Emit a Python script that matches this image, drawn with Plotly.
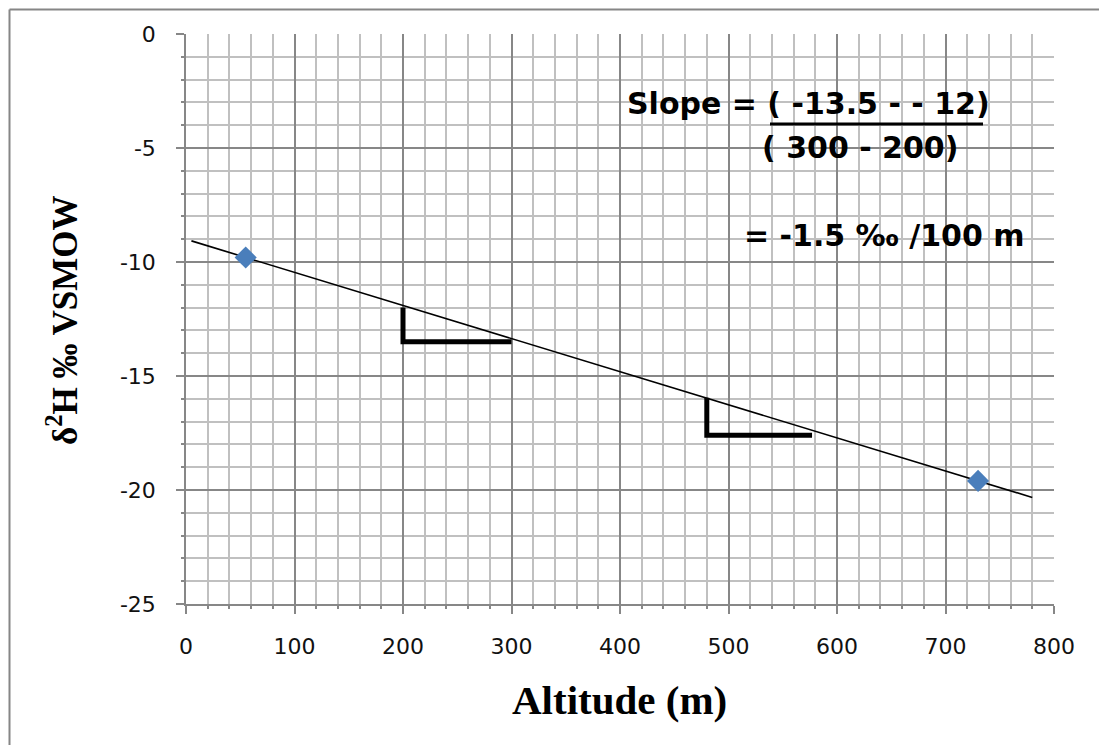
import numpy as np
import plotly.graph_objects as go

# ---- data ----
altitude = [55, 730]
d2h = [-9.8, -19.6]
trend_range = [5, 780]
tri1_x = [200, 300]
tri1_y = [-12, -13.5]
tri2_x = [480, 577]
tri2_y = [-15.95, -17.6]
x_ticks = [0, 100, 200, 300, 400, 500, 600, 700, 800]
y_ticks = [-25, -20, -15, -10, -5, 0]
slope_text = ["Slope = ( -13.5 - - 12)", "( 300 - 200)", "= -1.5 ‰ /100 m"]
x_title = "Altitude (m)"
y_title = "δ<sup>2</sup>H ‰ VSMOW"

# ---- figure ----
OFF = 8  # page body margin offset
W, H = 1107 - OFF, 745 - OFF
ml, mr, mt, mb = 186 - OFF, 53, 34 - OFF, 141
pw, ph = W - ml - mr, H - mt - mb

coef = np.polyfit(altitude, d2h, 1)
tx = np.array(trend_range, dtype=float)
ty = np.polyval(coef, tx)

fig = go.Figure()

fig.add_trace(go.Scatter(x=tx, y=ty, mode="lines",
                         line=dict(color="black", width=1.6),
                         hoverinfo="skip", showlegend=False))

for txs, tys in [(tri1_x, tri1_y), (tri2_x, tri2_y)]:
    fig.add_trace(go.Scatter(x=[txs[0], txs[0], txs[1]],
                             y=[tys[0], tys[1], tys[1]],
                             mode="lines",
                             line=dict(color="black", width=5),
                             hoverinfo="skip", showlegend=False))

fig.add_trace(go.Scatter(x=altitude, y=d2h, mode="markers",
                         marker=dict(symbol="diamond", size=17, color="#4A7EBB",
                                     line=dict(width=0)),
                         showlegend=False))

major = "#878787"
minor_c = "#c0c0c0"
tickfont = dict(family="DejaVu Sans", size=22, color="#111111")

fig.update_xaxes(range=[0, 800], tickvals=x_ticks, ticktext=[str(v) for v in x_ticks],
                 showgrid=True, gridcolor=major, gridwidth=1.5,
                 showline=True, linecolor=major, linewidth=1.5,
                 ticks="outside", ticklen=8, tickcolor=major, tickwidth=1.5,
                 tickfont=tickfont, ticklabelstandoff=14, zeroline=False,
                 minor=dict(dtick=20, showgrid=True, gridcolor=minor_c, gridwidth=1.5,
                            ticks="outside", ticklen=3, tickcolor=major))
fig.update_yaxes(range=[-25, 0], tickvals=y_ticks, ticktext=[str(v) for v in y_ticks],
                 showgrid=True, gridcolor=major, gridwidth=1.5,
                 showline=True, linecolor=major, linewidth=1.5,
                 ticks="outside", ticklen=8, tickcolor=major, tickwidth=1.5,
                 tickfont=tickfont, ticklabelstandoff=16, zeroline=False,
                 minor=dict(dtick=1, showgrid=True, gridcolor=minor_c, gridwidth=1.5,
                            ticks="outside", ticklen=3, tickcolor=major))

# convert reference page pixels to paper coordinates
def px_x(p):
    return (p - OFF - ml) / pw

def px_y(p):
    return (H - mb - (p - OFF)) / ph

ann_font = dict(family="DejaVu Sans", size=30, color="black", weight="bold")
annotations = [
    dict(text=slope_text[0], x=px_x(625), y=px_y(103), xanchor="left", yanchor="middle"),
    dict(text=slope_text[1], x=px_x(760), y=px_y(148), xanchor="left", yanchor="middle"),
    dict(text=slope_text[2], x=px_x(742), y=px_y(235), xanchor="left", yanchor="middle"),
]
for a in annotations:
    a.update(xref="paper", yref="paper", showarrow=False, font=ann_font)

annotations.append(dict(text=x_title, x=px_x(619), y=px_y(700), xref="paper", yref="paper",
                        showarrow=False, xanchor="center", yanchor="middle",
                        font=dict(family="Liberation Serif", size=41, color="black", weight="bold")))
annotations.append(dict(text=y_title, x=px_x(62), y=px_y(320), xref="paper", yref="paper",
                        showarrow=False, xanchor="center", yanchor="middle", textangle=-90,
                        font=dict(family="Liberation Serif", size=35, color="black", weight="bold")))

bx = OFF + 1.5  # chart-area border position (as close to the page edge as possible)
shapes = [
    # fraction bar
    dict(type="line", xref="paper", yref="paper", x0=px_x(770), x1=px_x(983),
         y0=px_y(124), y1=px_y(124), line=dict(color="black", width=3)),
    # chart-area border (left and top edges)
    dict(type="line", xref="paper", yref="paper", x0=px_x(bx), x1=px_x(bx),
         y0=px_y(bx), y1=px_y(760), line=dict(color="#868686", width=2)),
    dict(type="line", xref="paper", yref="paper", x0=px_x(bx), x1=px_x(1120),
         y0=px_y(bx), y1=px_y(bx), line=dict(color="#868686", width=2)),
]

fig.update_layout(width=W, height=H, margin=dict(l=ml, r=mr, t=mt, b=mb),
                  paper_bgcolor="white", plot_bgcolor="white",
                  annotations=annotations, shapes=shapes, showlegend=False)

fig.write_html("out.html")
